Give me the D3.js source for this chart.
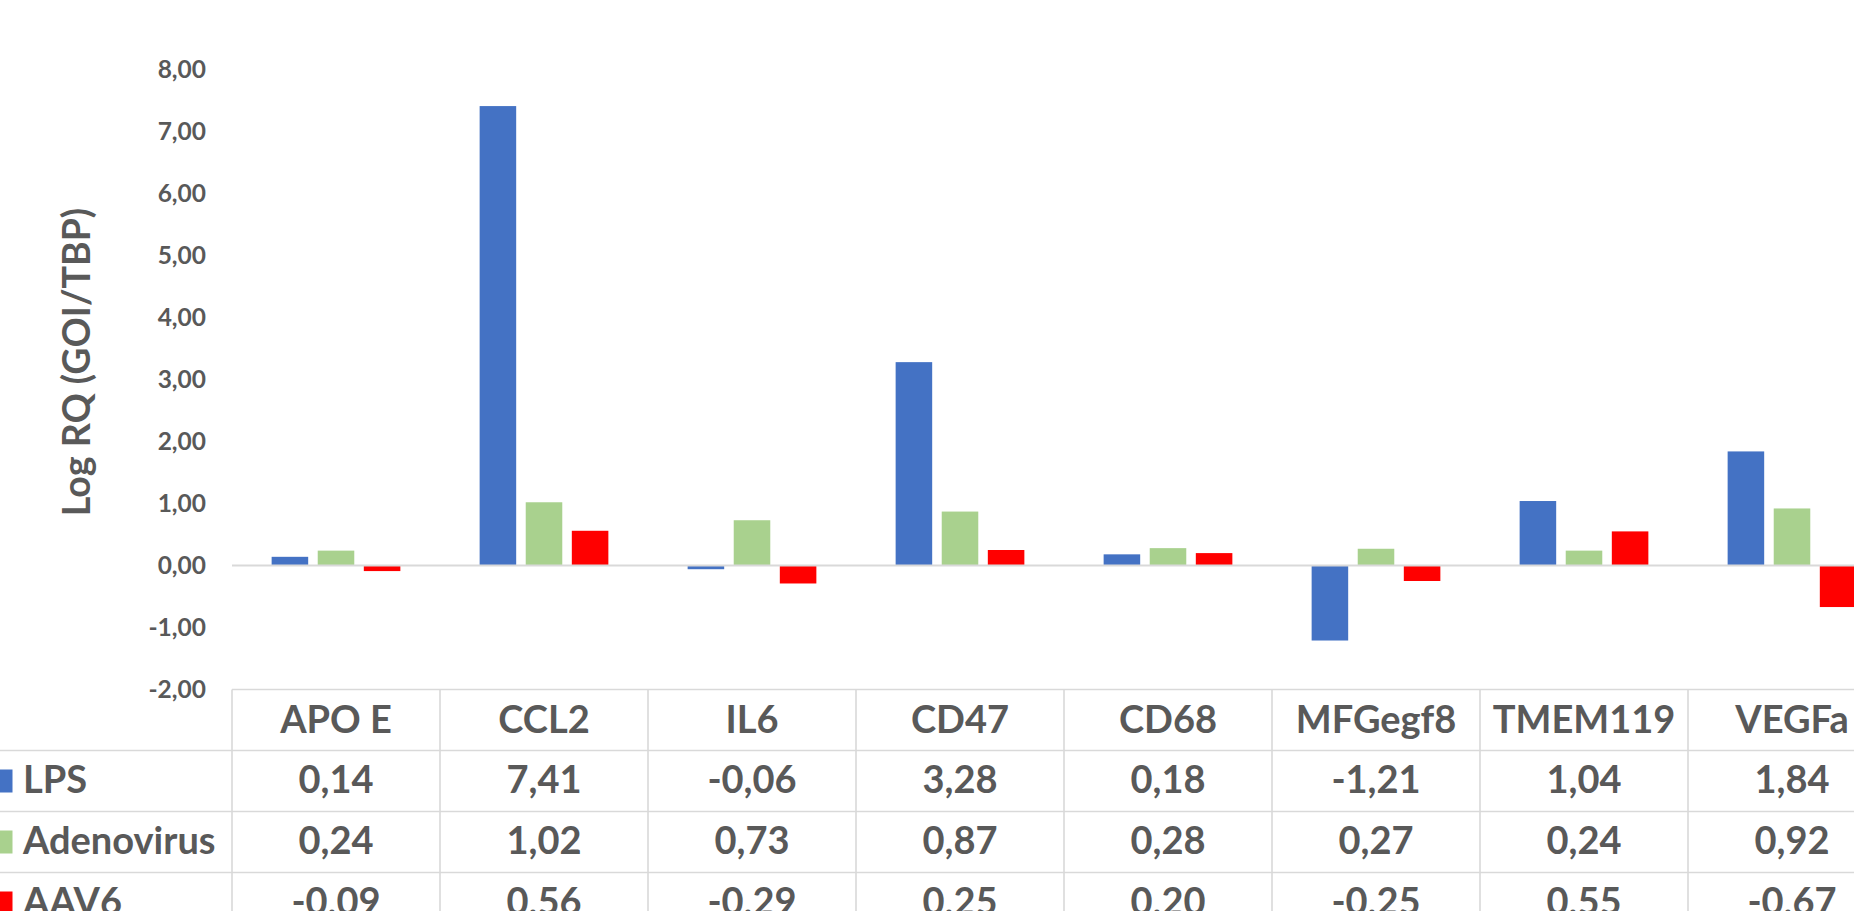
<!DOCTYPE html>
<html>
<head>
<meta charset="utf-8">
<script src="https://cdn.jsdelivr.net/npm/d3@7"></script>
<style>
  html, body { margin: 0; padding: 0; background: #fff; overflow: hidden; }
  svg { display: block; }
  text { font-family: Lato, "Open Sans", sans-serif; font-weight: bold; fill: #595959; }
</style>
</head>
<body>
<svg id="chart" width="1854" height="911"></svg>
<script>
// ---- data ----
const categories = ["APO E", "CCL2", "IL6", "CD47", "CD68", "MFGegf8", "TMEM119", "VEGFa"];
const seriesNames = ["LPS", "Adenovirus", "AAV6"];
const lpsValues = [0.14, 7.41, -0.06, 3.28, 0.18, -1.21, 1.04, 1.84];
const adenovirusValues = [0.24, 1.02, 0.73, 0.87, 0.28, 0.27, 0.24, 0.92];
const aav6Values = [-0.09, 0.56, -0.29, 0.25, 0.20, -0.25, 0.55, -0.67];
const yTicks = [-2, -1, 0, 1, 2, 3, 4, 5, 6, 7, 8];
const yTitle = "Log RQ (GOI/TBP)";

const seriesValues = [lpsValues, adenovirusValues, aav6Values];
const colors = ["#4472C4", "#A9D18E", "#FF0000"];

const locale = d3.formatLocale({decimal: ",", thousands: ".", grouping: [3], currency: ["", ""], minus: "-"});
const fmt = locale.format(".2f");

// ---- layout ----
const W = 1854, H = 911;
const plotLeft = 232, colW = 208;
const plotRight = plotLeft + colW * categories.length;
const yTop = 69.5, yBottom = 689.5;
const rowH = 61;
const gridColor = "#D9D9D9";
const tableFont = "38px";

const svg = d3.select("#chart");

const x0 = d3.scaleBand().domain(categories).range([plotLeft, plotRight]).paddingInner(0).paddingOuter(0);
const x1 = d3.scaleBand().domain(seriesNames).range([0, colW]).paddingInner(0.207).paddingOuter(0.86);
const y = d3.scaleLinear().domain([-2, 8]).range([yBottom, yTop]);

// y axis (labels only)
const yAxis = d3.axisLeft(y).tickValues(yTicks).tickSize(0).tickPadding(26).tickFormat(d => fmt(d));
const gY = svg.append("g").attr("transform", `translate(${plotLeft},0)`).call(yAxis);
gY.select(".domain").remove();
gY.selectAll("text")
  .style("font-family", "Lato, sans-serif")
  .style("font-weight", "bold")
  .style("font-size", "24.5px")
  .attr("fill", "#595959");

// y axis title
svg.append("text")
  .attr("transform", `translate(75,362) rotate(-90)`)
  .attr("text-anchor", "middle")
  .attr("dominant-baseline", "central")
  .style("font-size", "37.5px")
  .text(yTitle);

// bars
const data = [];
categories.forEach((c, i) => {
  seriesNames.forEach((s, j) => {
    data.push({cat: c, series: s, value: seriesValues[j][i], color: colors[j]});
  });
});
svg.append("g").selectAll("rect").data(data).join("rect")
  .attr("x", d => x0(d.cat) + x1(d.series))
  .attr("width", x1.bandwidth())
  .attr("y", d => y(Math.max(0, d.value)))
  .attr("height", d => Math.abs(y(d.value) - y(0)))
  .attr("fill", d => d.color);

// zero line
svg.append("line")
  .attr("x1", plotLeft).attr("x2", W + 50)
  .attr("y1", y(0)).attr("y2", y(0))
  .attr("stroke", gridColor).attr("stroke-width", 2.2);

// ---- data table ----
const table = svg.append("g");
const tableTop = y(-2);
table.append("line")
  .attr("x1", plotLeft).attr("x2", W + 50)
  .attr("y1", tableTop).attr("y2", tableTop)
  .attr("stroke", gridColor).attr("stroke-width", 1.6);
seriesNames.forEach((s, j) => {
  const yy = tableTop + rowH * (j + 1);
  table.append("line")
    .attr("x1", 0).attr("x2", W + 50)
    .attr("y1", yy).attr("y2", yy)
    .attr("stroke", gridColor).attr("stroke-width", 1.6);
});
categories.concat(["_end"]).forEach((c, i) => {
  const xx = plotLeft + colW * i;
  table.append("line")
    .attr("x1", xx).attr("x2", xx)
    .attr("y1", tableTop).attr("y2", H + 50)
    .attr("stroke", gridColor).attr("stroke-width", 1.6);
});
table.selectAll("text.hdr").data(categories).join("text")
  .attr("class", "hdr")
  .attr("x", d => x0(d) + colW / 2)
  .attr("y", tableTop + rowH / 2 + 12.5)
  .attr("text-anchor", "middle")
  .style("font-size", tableFont)
  .text(d => d);
seriesNames.forEach((s, j) => {
  const cy = tableTop + rowH * (j + 1) + rowH / 2;
  table.append("rect")
    .attr("x", -10.5).attr("y", cy - 11.5)
    .attr("width", 23).attr("height", 23)
    .attr("fill", colors[j]);
  table.append("text")
    .attr("x", 23).attr("y", cy + 11.5)
    .style("font-size", tableFont)
    .text(s);
  table.selectAll("text.v" + j).data(seriesValues[j]).join("text")
    .attr("class", "v" + j)
    .attr("x", (d, i) => x0(categories[i]) + colW / 2)
    .attr("y", cy + 11.5)
    .attr("text-anchor", "middle")
    .style("font-size", tableFont)
    .text(d => fmt(d));
});
</script>
</body>
</html>
